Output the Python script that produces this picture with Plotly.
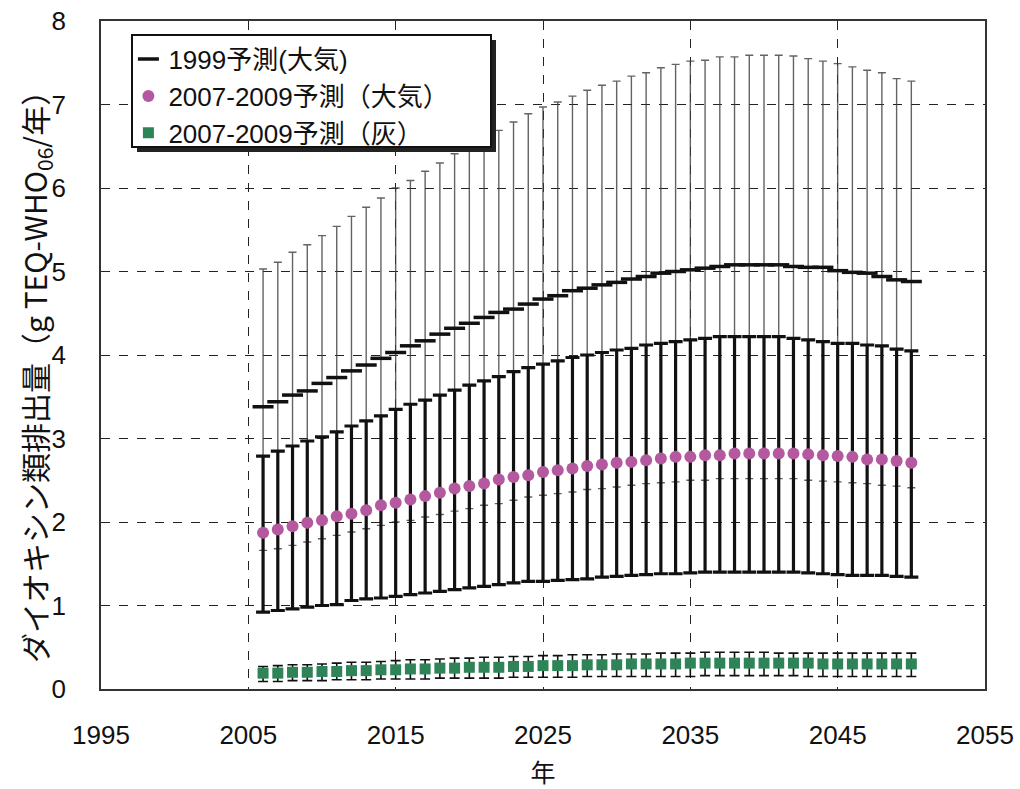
import plotly.graph_objects as go

years = list(range(2006, 2051))

# 1999予測(大気)
s1_mid = [3.38, 3.44, 3.52, 3.57, 3.66, 3.73, 3.81, 3.88, 3.96, 4.03,
          4.11, 4.17, 4.25, 4.32, 4.38, 4.45, 4.51, 4.55, 4.61, 4.67,
          4.71, 4.77, 4.80, 4.84, 4.87, 4.91, 4.94, 4.98, 5.00, 5.02,
          5.04, 5.06, 5.08, 5.08, 5.08, 5.08, 5.06, 5.05, 5.05, 5.01,
          4.99, 4.98, 4.94, 4.90, 4.88]
s1_hi = [5.03, 5.11, 5.23, 5.32, 5.43, 5.54, 5.66, 5.77, 5.88, 6.00,
         6.09, 6.20, 6.30, 6.41, 6.50, 6.60, 6.69, 6.79, 6.89, 6.97,
         7.03, 7.10, 7.17, 7.23, 7.28, 7.34, 7.38, 7.44, 7.48, 7.52,
         7.53, 7.57, 7.57, 7.59, 7.59, 7.59, 7.58, 7.55, 7.52, 7.49,
         7.45, 7.41, 7.38, 7.31, 7.28]
s1_lo = [1.66, 1.68, 1.72, 1.76, 1.80, 1.84, 1.88, 1.92, 1.96, 2.00,
         2.02, 2.06, 2.09, 2.13, 2.16, 2.20, 2.22, 2.26, 2.30, 2.32,
         2.34, 2.36, 2.39, 2.40, 2.42, 2.44, 2.46, 2.47, 2.48, 2.50,
         2.50, 2.52, 2.52, 2.52, 2.52, 2.52, 2.52, 2.50, 2.49, 2.48,
         2.47, 2.46, 2.44, 2.43, 2.41]

# 2007-2009予測(大気)
s2_mid = [1.87, 1.91, 1.95, 1.99, 2.02, 2.07, 2.10, 2.14, 2.20, 2.23,
          2.27, 2.31, 2.35, 2.40, 2.43, 2.46, 2.51, 2.54, 2.56, 2.60,
          2.62, 2.64, 2.67, 2.69, 2.71, 2.72, 2.74, 2.76, 2.78, 2.78,
          2.80, 2.80, 2.82, 2.82, 2.82, 2.82, 2.82, 2.81, 2.80, 2.79,
          2.78, 2.75, 2.75, 2.73, 2.71]
s2_hi = [2.79, 2.85, 2.91, 2.97, 3.02, 3.08, 3.15, 3.21, 3.27, 3.35,
         3.41, 3.46, 3.52, 3.58, 3.64, 3.69, 3.74, 3.80, 3.85, 3.89,
         3.93, 3.97, 4.00, 4.03, 4.06, 4.08, 4.12, 4.14, 4.16, 4.18,
         4.20, 4.22, 4.22, 4.22, 4.22, 4.22, 4.20, 4.18, 4.16, 4.14,
         4.14, 4.12, 4.11, 4.07, 4.05]
s2_lo = [0.92, 0.94, 0.96, 0.98, 1.00, 1.01, 1.06, 1.08, 1.09, 1.11,
         1.13, 1.15, 1.17, 1.19, 1.21, 1.23, 1.25, 1.27, 1.29, 1.29,
         1.30, 1.31, 1.32, 1.34, 1.35, 1.36, 1.37, 1.38, 1.38, 1.39,
         1.40, 1.40, 1.40, 1.40, 1.40, 1.40, 1.40, 1.39, 1.38, 1.37,
         1.36, 1.36, 1.36, 1.35, 1.34]

# 2007-2009予測(灰)
s3_mid = [0.19, 0.19, 0.20, 0.20, 0.21, 0.21, 0.22, 0.22, 0.23, 0.23,
          0.24, 0.24, 0.25, 0.25, 0.26, 0.26, 0.26, 0.27, 0.27, 0.28,
          0.28, 0.28, 0.29, 0.29, 0.29, 0.30, 0.30, 0.30, 0.30, 0.31,
          0.31, 0.31, 0.31, 0.31, 0.31, 0.31, 0.31, 0.31, 0.30, 0.30,
          0.30, 0.30, 0.30, 0.30, 0.30]
s3_hi = [0.27, 0.28, 0.29, 0.29, 0.30, 0.31, 0.32, 0.32, 0.33, 0.34,
         0.35, 0.35, 0.36, 0.37, 0.37, 0.38, 0.38, 0.39, 0.39, 0.40,
         0.40, 0.41, 0.41, 0.41, 0.42, 0.42, 0.42, 0.43, 0.43, 0.43,
         0.44, 0.44, 0.44, 0.44, 0.44, 0.43, 0.43, 0.43, 0.43, 0.43,
         0.43, 0.43, 0.43, 0.43, 0.43]
s3_lo = [0.09, 0.09, 0.10, 0.10, 0.10, 0.11, 0.11, 0.11, 0.12, 0.12,
         0.12, 0.12, 0.13, 0.13, 0.13, 0.13, 0.13, 0.14, 0.14, 0.14,
         0.14, 0.14, 0.15, 0.15, 0.15, 0.15, 0.15, 0.15, 0.15, 0.15,
         0.16, 0.16, 0.16, 0.16, 0.16, 0.16, 0.16, 0.15, 0.15, 0.15,
         0.15, 0.15, 0.15, 0.15, 0.15]

names = ["1999予測(大気)", "2007-2009予測（大気）", "2007-2009予測（灰）"]
x_ticks = [1995, 2005, 2015, 2025, 2035, 2045, 2055]
y_title = "ダイオキシン類排出量（g TEQ-WHO<sub>06</sub>/年）"
x_title = "年"

def err(mid, hi, lo):
    return ([h - m for h, m in zip(hi, mid)], [m - l for m, l in zip(mid, lo)])

fig = go.Figure()

p1, m1 = err(s1_mid, s1_hi, s1_lo)
fig.add_trace(go.Scatter(
    x=years, y=s1_mid, mode="markers", name=names[0],
    marker=dict(symbol="line-ew", size=15, color="#111",
                line=dict(width=3.5, color="#111")),
    error_y=dict(type="data", symmetric=False, array=p1, arrayminus=m1,
                 color="rgba(60,60,60,0.8)", thickness=1.4, width=4)))

p2, m2 = err(s2_mid, s2_hi, s2_lo)
fig.add_trace(go.Scatter(
    x=years, y=s2_mid, mode="markers", name=names[1],
    marker=dict(symbol="circle", size=12, color="#B4589F"),
    error_y=dict(type="data", symmetric=False, array=p2, arrayminus=m2,
                 color="#111", thickness=3.2, width=7)))

p3, m3 = err(s3_mid, s3_hi, s3_lo)
fig.add_trace(go.Scatter(
    x=years, y=s3_mid, mode="markers", name=names[2],
    marker=dict(symbol="square", size=11, color="#2E8457"),
    error_y=dict(type="data", symmetric=False, array=p3, arrayminus=m3,
                 color="#111", thickness=1.6, width=5)))

# plot area in pixels: left 101, right 985, top 21, bottom 689
def px2paper(px, py):
    return (px - 101) / 884.0, 1 - (py - 21) / 668.0

sx0, sy0 = px2paper(137, 40)
sx1, sy1 = px2paper(496, 152)
bx0, by0 = px2paper(132, 35)
bx1, by1 = px2paper(491, 147)
tx, ty = px2paper(35, 370)

shapes = [
    dict(type="rect", xref="paper", yref="paper", x0=sx0, x1=sx1, y0=sy1, y1=sy0,
         fillcolor="#222", line=dict(width=0), layer="above"),
    dict(type="rect", xref="paper", yref="paper", x0=bx0, x1=bx1, y0=by1, y1=by0,
         fillcolor="white", line=dict(color="#111", width=2), layer="above"),
]

annotations = [
    dict(text=y_title, xref="paper", yref="paper", x=tx, y=ty, textangle=-90,
         xanchor="center", yanchor="middle", showarrow=False,
         font=dict(family="Noto Sans CJK JP", size=30, color="#111")),
]

fig.update_layout(
    width=1020, height=789,
    margin=dict(l=101, r=35, t=21, b=100, autoexpand=False),
    paper_bgcolor="white", plot_bgcolor="white",
    font=dict(family="Liberation Sans, Noto Sans CJK JP, sans-serif", size=26, color="#111"),
    showlegend=True,
    shapes=shapes,
    annotations=annotations,
    legend=dict(x=0.031, y=0.978, xanchor="left", yanchor="top",
                bgcolor="rgba(0,0,0,0)", borderwidth=0,
                font=dict(family="Liberation Sans, Noto Sans CJK JP", size=26),
                itemwidth=30),
    xaxis=dict(range=[1995, 2055], tickvals=x_ticks, ticktext=[str(v) for v in x_ticks],
               automargin=False,
               showgrid=True, gridcolor="#222", griddash="dash", gridwidth=1,
               showline=True, linecolor="#333", linewidth=1.5, mirror=True,
               ticks="outside", ticklen=22, tickcolor="rgba(0,0,0,0)", zeroline=False,
               tickfont=dict(family="Liberation Sans Narrow, Liberation Sans", size=26),
               title=dict(text=x_title, font=dict(family="Noto Sans CJK JP", size=25), standoff=20)),
    yaxis=dict(range=[0, 8], dtick=1, tick0=0, automargin=False,
               showgrid=True, gridcolor="#222", griddash="dash", gridwidth=1,
               showline=True, linecolor="#333", linewidth=1.5, mirror=True,
               ticks="outside", ticklen=28, tickcolor="rgba(0,0,0,0)", zeroline=False,
               tickfont=dict(family="Liberation Sans", size=26)),
)

fig.write_html("out.html", config={"displayModeBar": False},
               post_script="document.body.style.margin='0';document.body.style.overflow='hidden';")
